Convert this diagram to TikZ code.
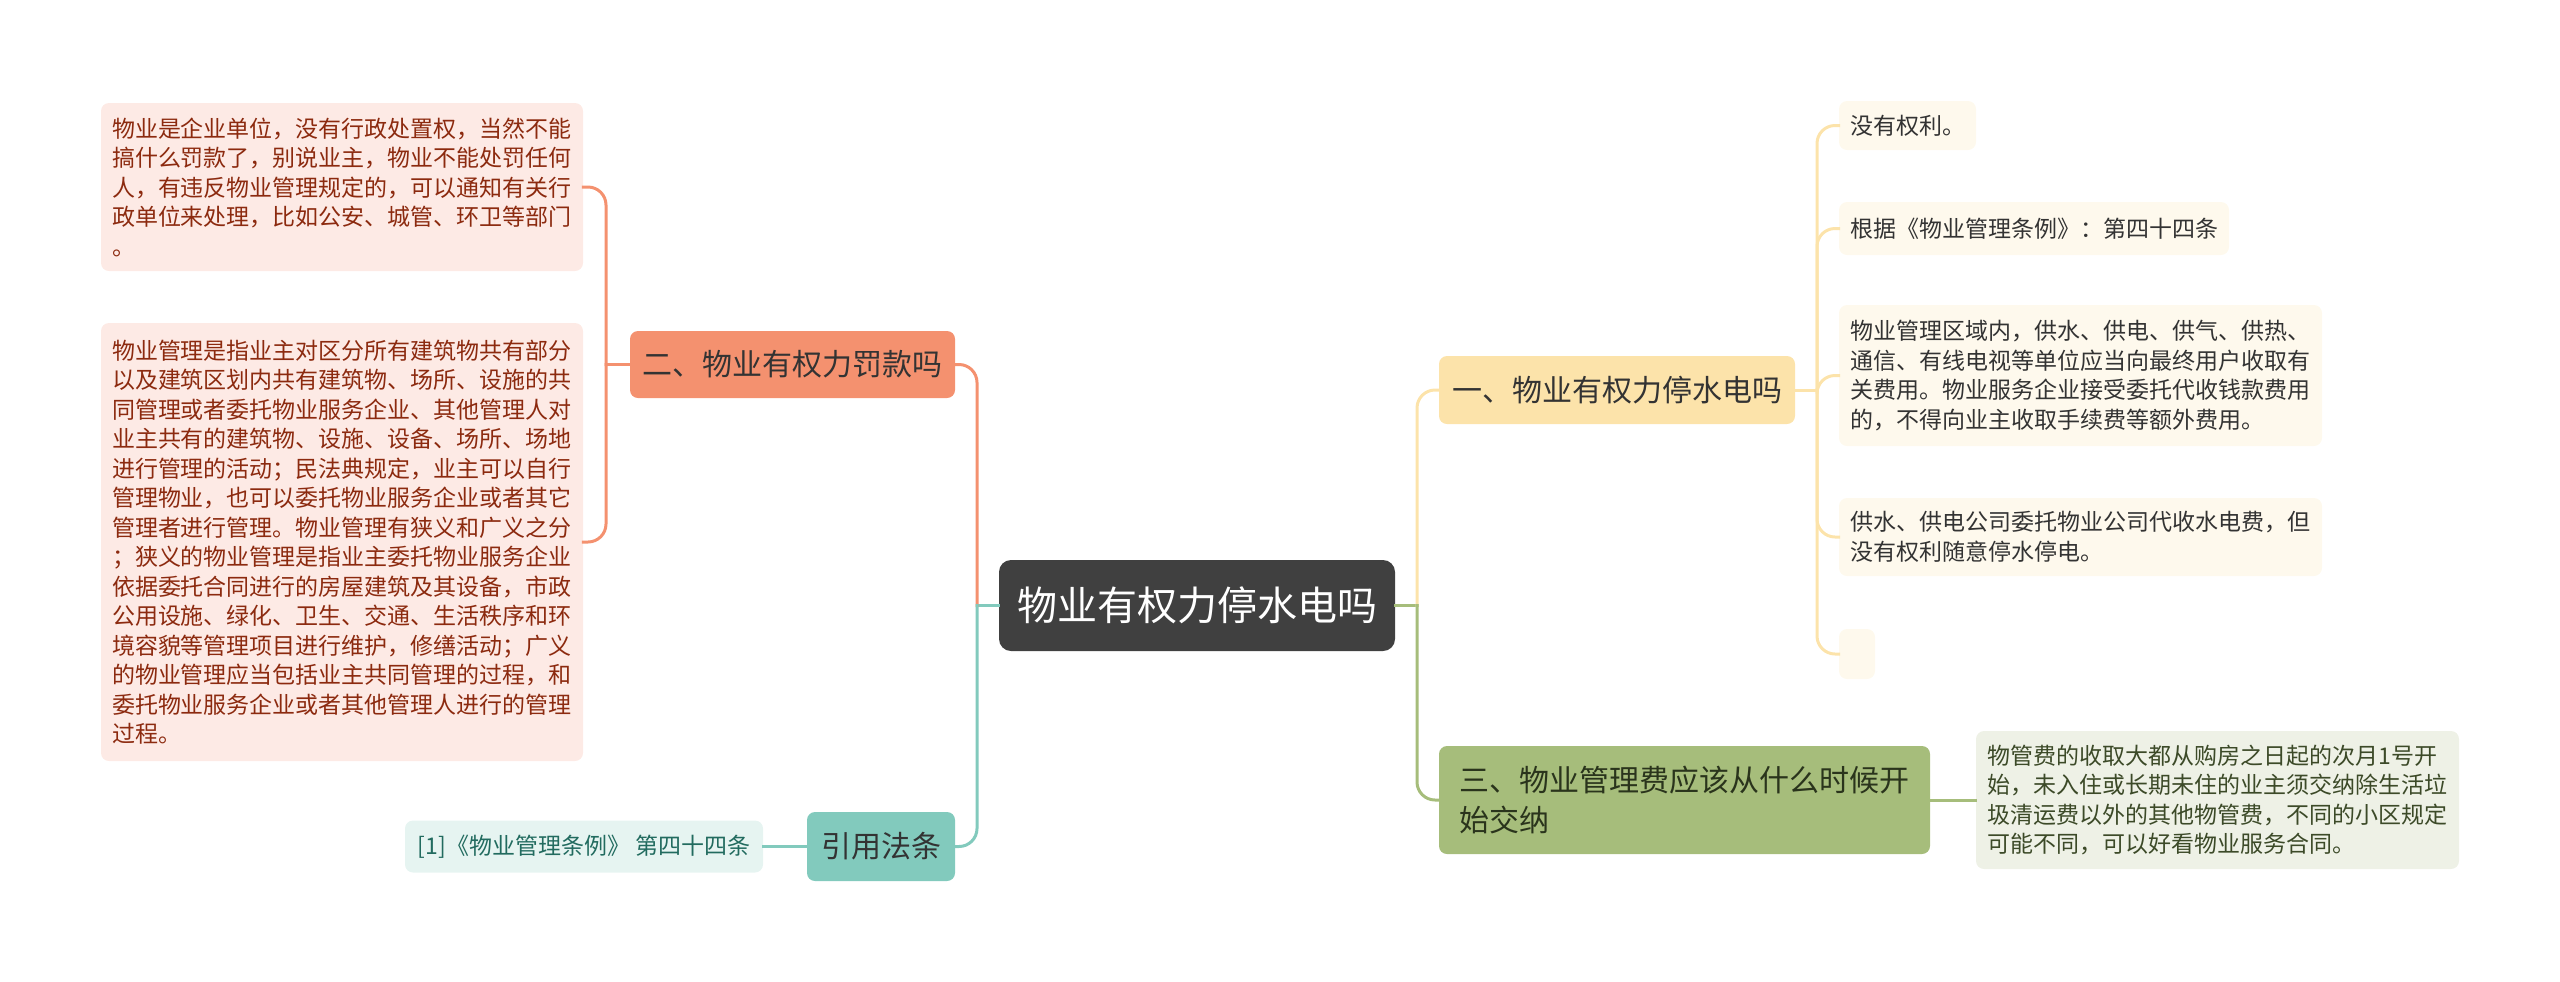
\documentclass[tikz,border=0pt]{standalone}
\usepackage{fontspec}
\setmainfont{Noto Sans CJK SC}
\usepackage{xcolor}

\definecolor{rootgray}{HTML}{404040}
\definecolor{orangeln}{HTML}{F4916F}
\definecolor{pinkfill}{HTML}{FDEAE5}
\definecolor{pinktext}{HTML}{8C2A0F}
\definecolor{tealln}{HTML}{82CABD}
\definecolor{tealfill}{HTML}{E6F4F1}
\definecolor{tealtext}{HTML}{226B5F}
\definecolor{yellowln}{HTML}{FCE3AA}
\definecolor{yellowfill}{HTML}{FEF9ED}
\definecolor{greenln}{HTML}{A6BD7B}
\definecolor{greenfill}{HTML}{EEF1E6}
\definecolor{greentext}{HTML}{3C4A28}
\definecolor{darktext}{HTML}{333333}

\begin{document}
\begin{tikzpicture}[x=0.5pt, y=-0.5pt,
    box/.style={rounded corners=4pt, inner sep=0pt, align=left},
    rootbox/.style={box, fill=rootgray, text=white, rounded corners=6pt,
        font=\fontsize{20}{24}\selectfont},
    topic/.style={box, text=darktext, font=\fontsize{15}{20}\selectfont},
    leaf/.style={box, font=\fontsize{11.5}{14.75}\selectfont},
    link/.style={line width=1.5pt, rounded corners=9pt, line cap=rect}]

    \useasboundingbox (0,0) rectangle (2560,981);

    \node[rootbox, minimum width=198pt, minimum height=45.5pt] (root) at (1197,605.5) {物业有权力停水电吗};

    % left side
    \node[topic, fill=orangeln, minimum width=162.5pt, minimum height=33.5pt] (fine) at (792.5,364.5) {二、物业有权力罚款吗};
    \node[leaf, fill=pinkfill, text=pinktext, minimum width=241pt, minimum height=84pt] (fineA) at (342,187) {物业是企业单位，没有行政处置权，当然不能\\搞什么罚款了，别说业主，物业不能处罚任何\\人，有违反物业管理规定的，可以通知有关行\\政单位来处理，比如公安、城管、环卫等部门\\。};
    \node[leaf, fill=pinkfill, text=pinktext, minimum width=241pt, minimum height=219pt] (fineB) at (342,542) {物业管理是指业主对区分所有建筑物共有部分\\以及建筑区划内共有建筑物、场所、设施的共\\同管理或者委托物业服务企业、其他管理人对\\业主共有的建筑物、设施、设备、场所、场地\\进行管理的活动；民法典规定，业主可以自行\\管理物业，也可以委托物业服务企业或者其它\\管理者进行管理。物业管理有狭义和广义之分\\；狭义的物业管理是指业主委托物业服务企业\\依据委托合同进行的房屋建筑及其设备，市政\\公用设施、绿化、卫生、交通、生活秩序和环\\境容貌等管理项目进行维护，修缮活动；广义\\的物业管理应当包括业主共同管理的过程，和\\委托物业服务企业或者其他管理人进行的管理\\过程。};
    \node[topic, fill=tealln, minimum width=74pt, minimum height=34.5pt] (law) at (881,846.5) {引用法条};
    \node[leaf, fill=tealfill, text=tealtext, minimum width=179pt, minimum height=26pt] (lawA) at (584,846.5) {[1]《物业管理条例》 第四十四条};

    % right side
    \node[topic, fill=yellowln, minimum width=178pt, minimum height=34pt] (cut) at (1617,390) {一、物业有权力停水电吗};
    \node[leaf, fill=yellowfill, text=darktext, minimum width=68.5pt, minimum height=24.5pt] (cutA) at (1907.5,125.5) {没有权利。};
    \node[leaf, fill=yellowfill, text=darktext, minimum width=195pt, minimum height=26.5pt] (cutB) at (2034,228.5) {根据《物业管理条例》：第四十四条};
    \node[leaf, fill=yellowfill, text=darktext, minimum width=241.5pt, minimum height=70.5pt] (cutC) at (2080.5,375.5) {物业管理区域内，供水、供电、供气、供热、\\通信、有线电视等单位应当向最终用户收取有\\关费用。物业服务企业接受委托代收钱款费用\\的，不得向业主收取手续费等额外费用。};
    \node[leaf, fill=yellowfill, text=darktext, minimum width=241.5pt, minimum height=39pt] (cutD) at (2080.5,537) {供水、供电公司委托物业公司代收水电费，但\\没有权利随意停水停电。};
    \node[leaf, fill=yellowfill, minimum width=18pt, minimum height=25pt] (cutE) at (1857,654) {};
    \node[topic, fill=greenln, text=greentext!70!black, minimum width=245.5pt, minimum height=54pt] (fee) at (1684.5,800) {三、物业管理费应该从什么时候开\\始交纳};
    \node[leaf, fill=greenfill, text=greentext, minimum width=241.5pt, minimum height=69pt] (feeA) at (2217.5,800) {物管费的收取大都从购房之日起的次月1号开\\始，未入住或长期未住的业主须交纳除生活垃\\圾清运费以外的其他物管费，不同的小区规定\\可能不同，可以好看物业服务合同。};

    \coordinate (jl) at (977,605.5);
    \coordinate (jr) at (1417,605.5);
    \coordinate (jfine) at (606,364.5);
    \coordinate (jcut) at (1817,390);

    \draw[link, tealln] (root.west) -- (jl);
    \draw[link, orangeln] (jl) |- (fine.east);
    \draw[link, tealln] (jl) |- (law.east);
    \draw[link, tealln] (law.west) -- (lawA.east);
    \draw[link, orangeln] (fine.west) -- (jfine);
    \draw[link, orangeln] (jfine) |- (fineA.east);
    \draw[link, orangeln] (jfine) |- (fineB.east);

    \draw[link, greenln] (root.east) -- (jr);
    \draw[link, yellowln] (jr) |- (cut.west);
    \draw[link, greenln] (jr) |- (fee.west);
    \draw[link, yellowln] (cut.east) -- (jcut);
    \foreach \n in {cutA,cutB,cutC,cutD,cutE}
        \draw[link, yellowln] (jcut) |- (\n.west);
    \draw[link, greenln] (fee.east) -- (feeA.west);
\end{tikzpicture}
\end{document}
